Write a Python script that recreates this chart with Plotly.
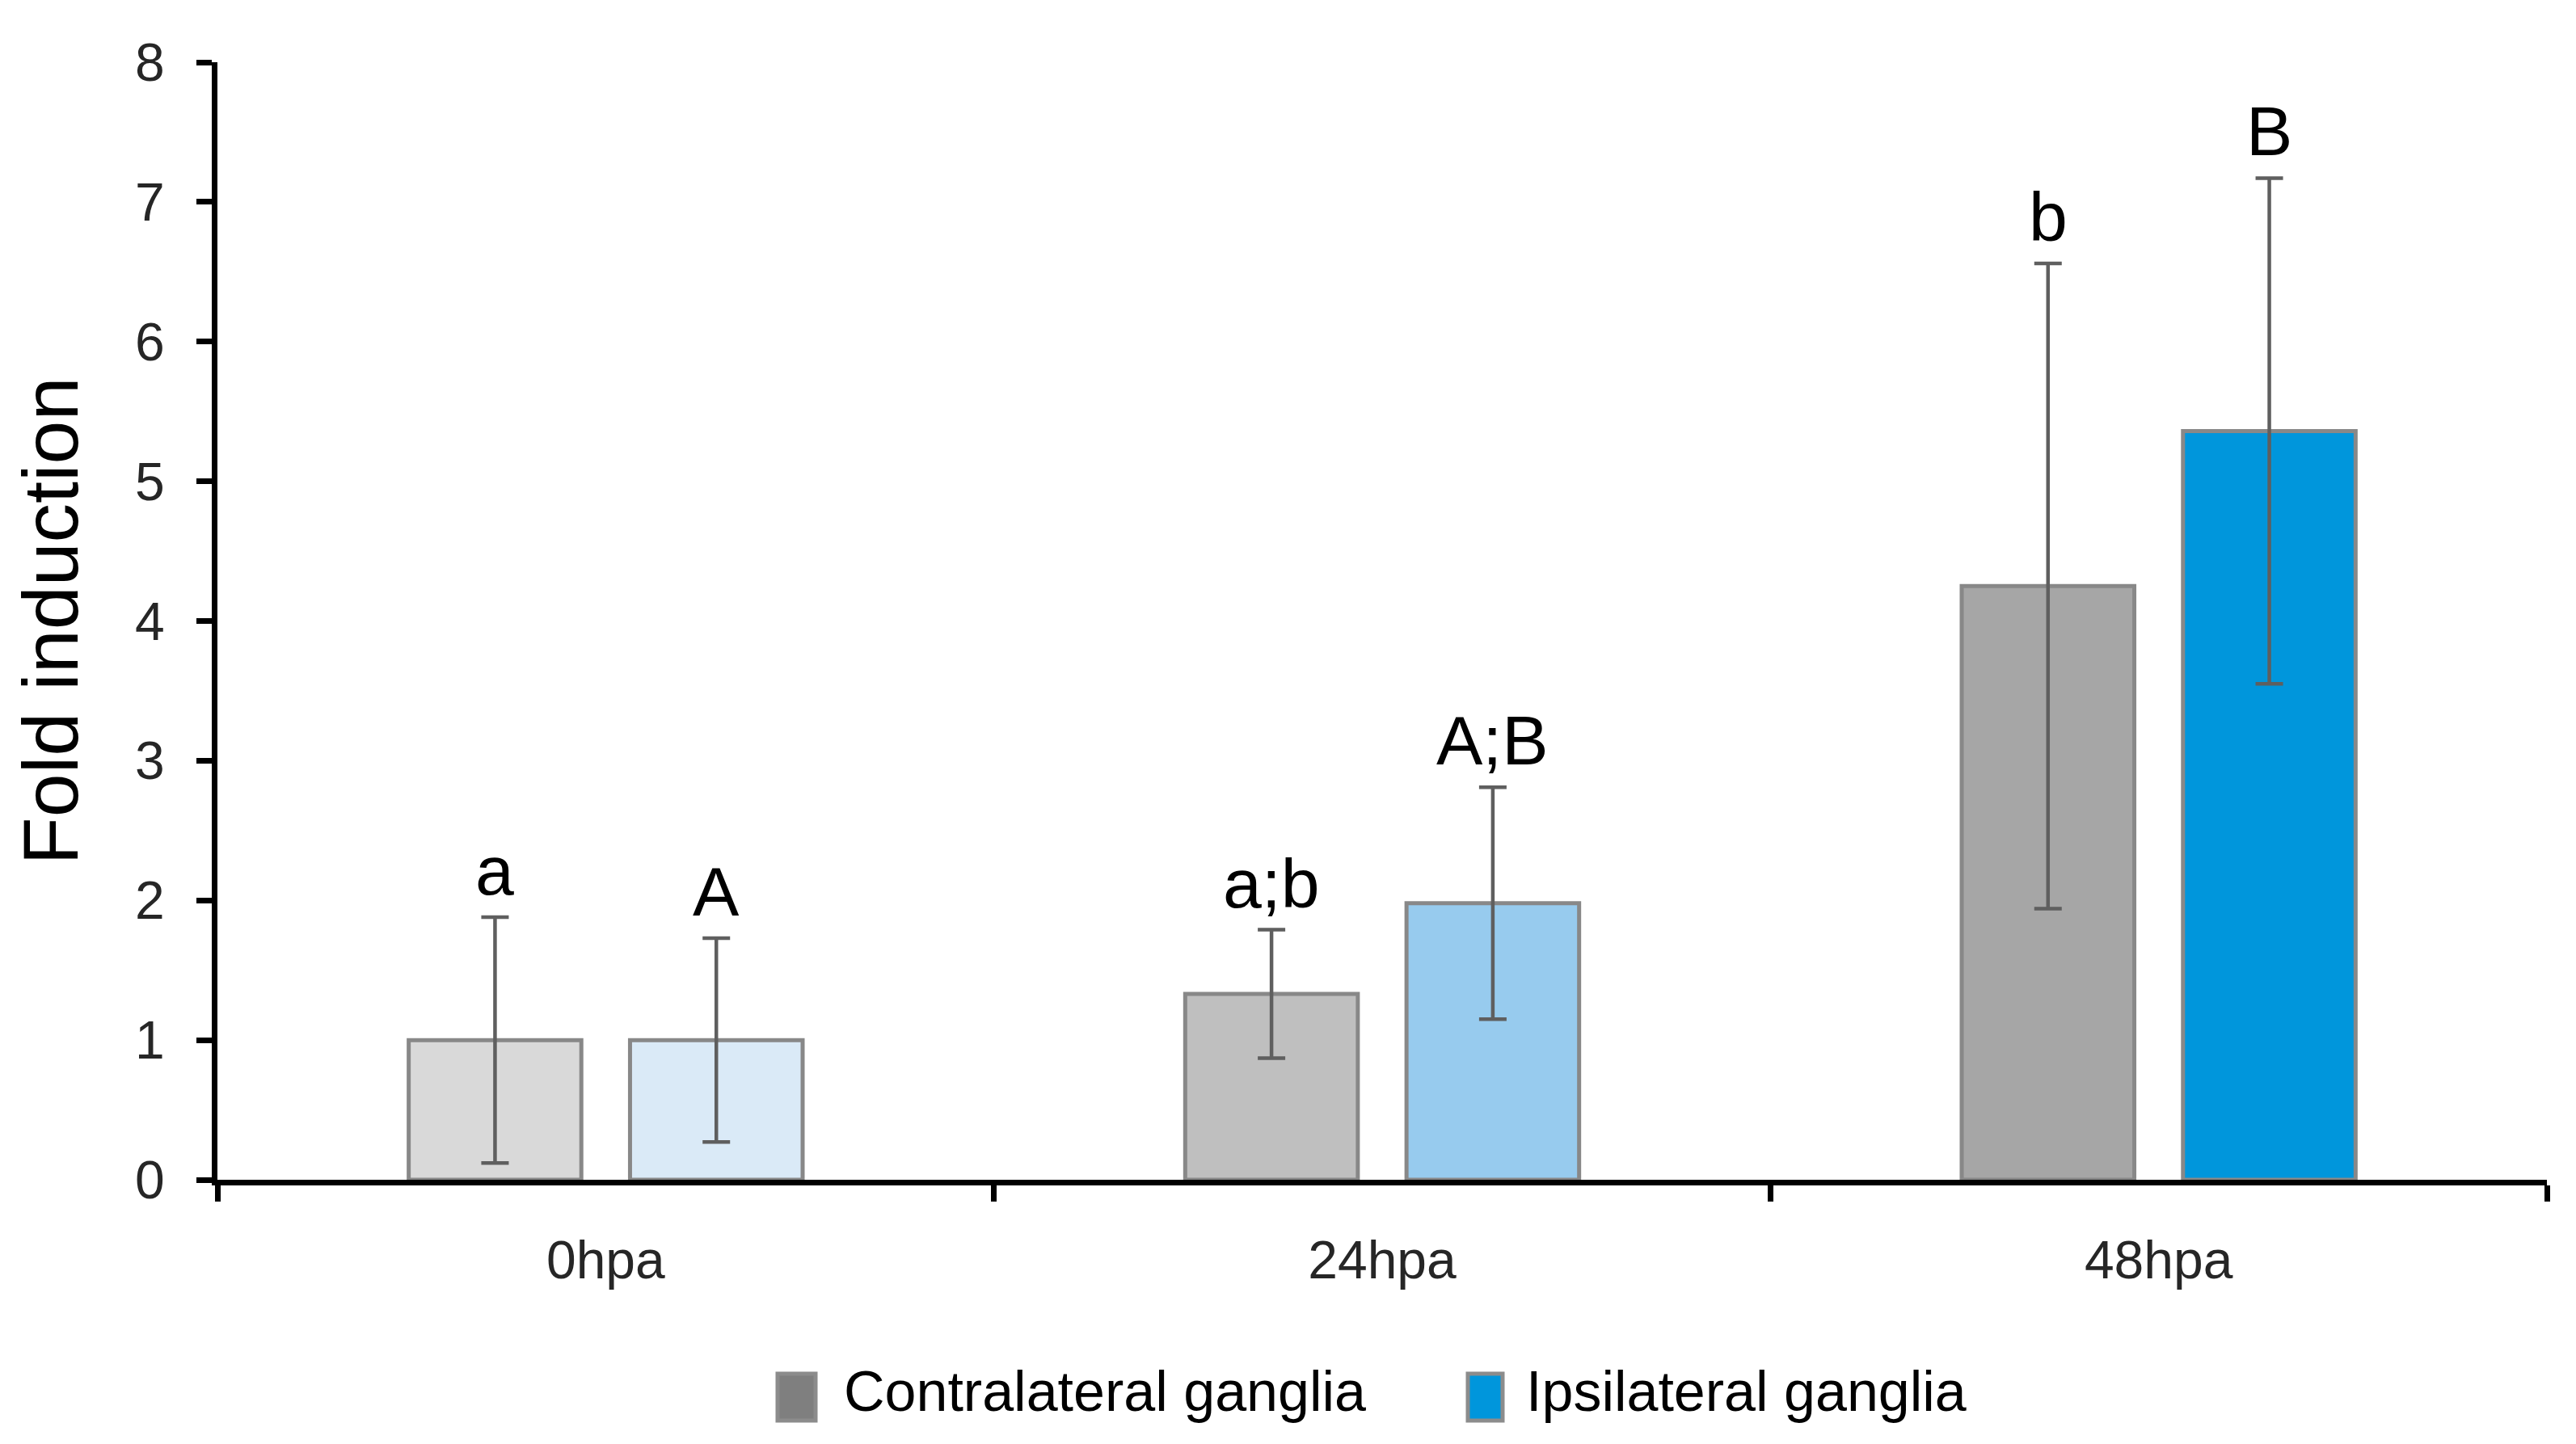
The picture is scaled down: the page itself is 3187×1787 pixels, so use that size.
import plotly.graph_objects as go

categories = ["0hpa", "24hpa", "48hpa"]
contra_values = [1.00, 1.33, 4.25]
contra_errors = [0.88, 0.46, 2.31]
ipsi_values = [1.00, 1.98, 5.36]
ipsi_errors = [0.73, 0.83, 1.81]
contra_letters = ["a", "a;b", "b"]
ipsi_letters = ["A", "A;B", "B"]
contra_colors = ["#D9D9D9", "#BFBFBF", "#A6A6A6"]
ipsi_colors = ["#DAEAF7", "#97CBEE", "#0096DC"]
series_names = ["Contralateral ganglia", "Ipsilateral ganglia"]
legend_colors = ["#7F7F7F", "#0096DC"]
y_ticks = [0, 1, 2, 3, 4, 5, 6, 7, 8]

W, H = 3187, 1787
ML, MR, MT, MB = 261, 44, 69, 335
BARGAP = 0.43
BARGROUPGAP = 0.22
FONT = "Liberation Sans, Arial, sans-serif"

fig = go.Figure()
for vals, errs, cols in [(contra_values, contra_errors, contra_colors),
                         (ipsi_values, ipsi_errors, ipsi_colors)]:
    fig.add_trace(go.Bar(
        x=categories, y=vals,
        marker=dict(color=cols, line=dict(color="#888888", width=5)),
        error_y=dict(type="data", array=errs, visible=True,
                     color="#5F5F5F", thickness=4.5, width=17),
        showlegend=False,
    ))

# letters above error bars
plot_w = W - ML - MR
plot_h = H - MT - MB
px_per_cat = plot_w / len(categories)
slot = (1 - BARGAP) / 2
shift = slot / 2 * px_per_cat
for letters, vals, errs, sgn in [(contra_letters, contra_values, contra_errors, -1),
                                 (ipsi_letters, ipsi_values, ipsi_errors, 1)]:
    for c, t, v, e in zip(categories, letters, vals, errs):
        fig.add_annotation(x=c, y=v + e, text=t, showarrow=False,
                           xref="x", yref="y", xanchor="center", yanchor="bottom",
                           xshift=sgn * shift, yshift=8,
                           font=dict(family=FONT, size=86, color="#000000"))

# legend (swatch + label)
def px_x(p):
    return (p - ML) / plot_w

def px_y(p):
    return (H - MB - p) / plot_h

leg_items = [(954, 1001, 1034), (1808, 1851, 1878)]
for (x0, x1, tx), name, col in zip(leg_items, series_names, legend_colors):
    fig.add_shape(type="rect", xref="paper", yref="paper",
                  x0=px_x(x0), x1=px_x(x1), y0=px_y(1750), y1=px_y(1692),
                  fillcolor=col, line=dict(color="#8C8C8C", width=5))
    fig.add_annotation(xref="paper", yref="paper", x=px_x(tx), y=px_y(1714),
                       text=name, showarrow=False, xanchor="left", yanchor="middle",
                       font=dict(family=FONT, size=70, color="#000000"))

fig.update_layout(
    width=W, height=H,
    margin=dict(l=ML, r=MR, t=MT, b=MB),
    paper_bgcolor="white", plot_bgcolor="white",
    barmode="group", bargap=BARGAP, bargroupgap=BARGROUPGAP,
    showlegend=False,
    font=dict(family=FONT, color="#262626"),
)
fig.update_xaxes(
    type="category", range=[-0.5, 2.5],
    showline=True, linecolor="#000000", linewidth=7,
    ticks="outside", tickson="boundaries", ticklen=20, tickwidth=7, tickcolor="#000000",
    tickfont=dict(family=FONT, size=66, color="#262626"),
    ticklabelstandoff=36, showgrid=False, zeroline=False,
)
fig.update_yaxes(
    range=[0, 8], tickvals=y_ticks,
    showline=True, linecolor="#000000", linewidth=7,
    ticks="outside", ticklen=19, tickwidth=7, tickcolor="#000000",
    tickfont=dict(family=FONT, size=66, color="#262626"),
    ticklabelstandoff=26, showgrid=False, zeroline=False,
    title=dict(text="Fold induction", font=dict(family=FONT, size=97, color="#000000"),
               standoff=50),
)
fig.write_html("out.html")
